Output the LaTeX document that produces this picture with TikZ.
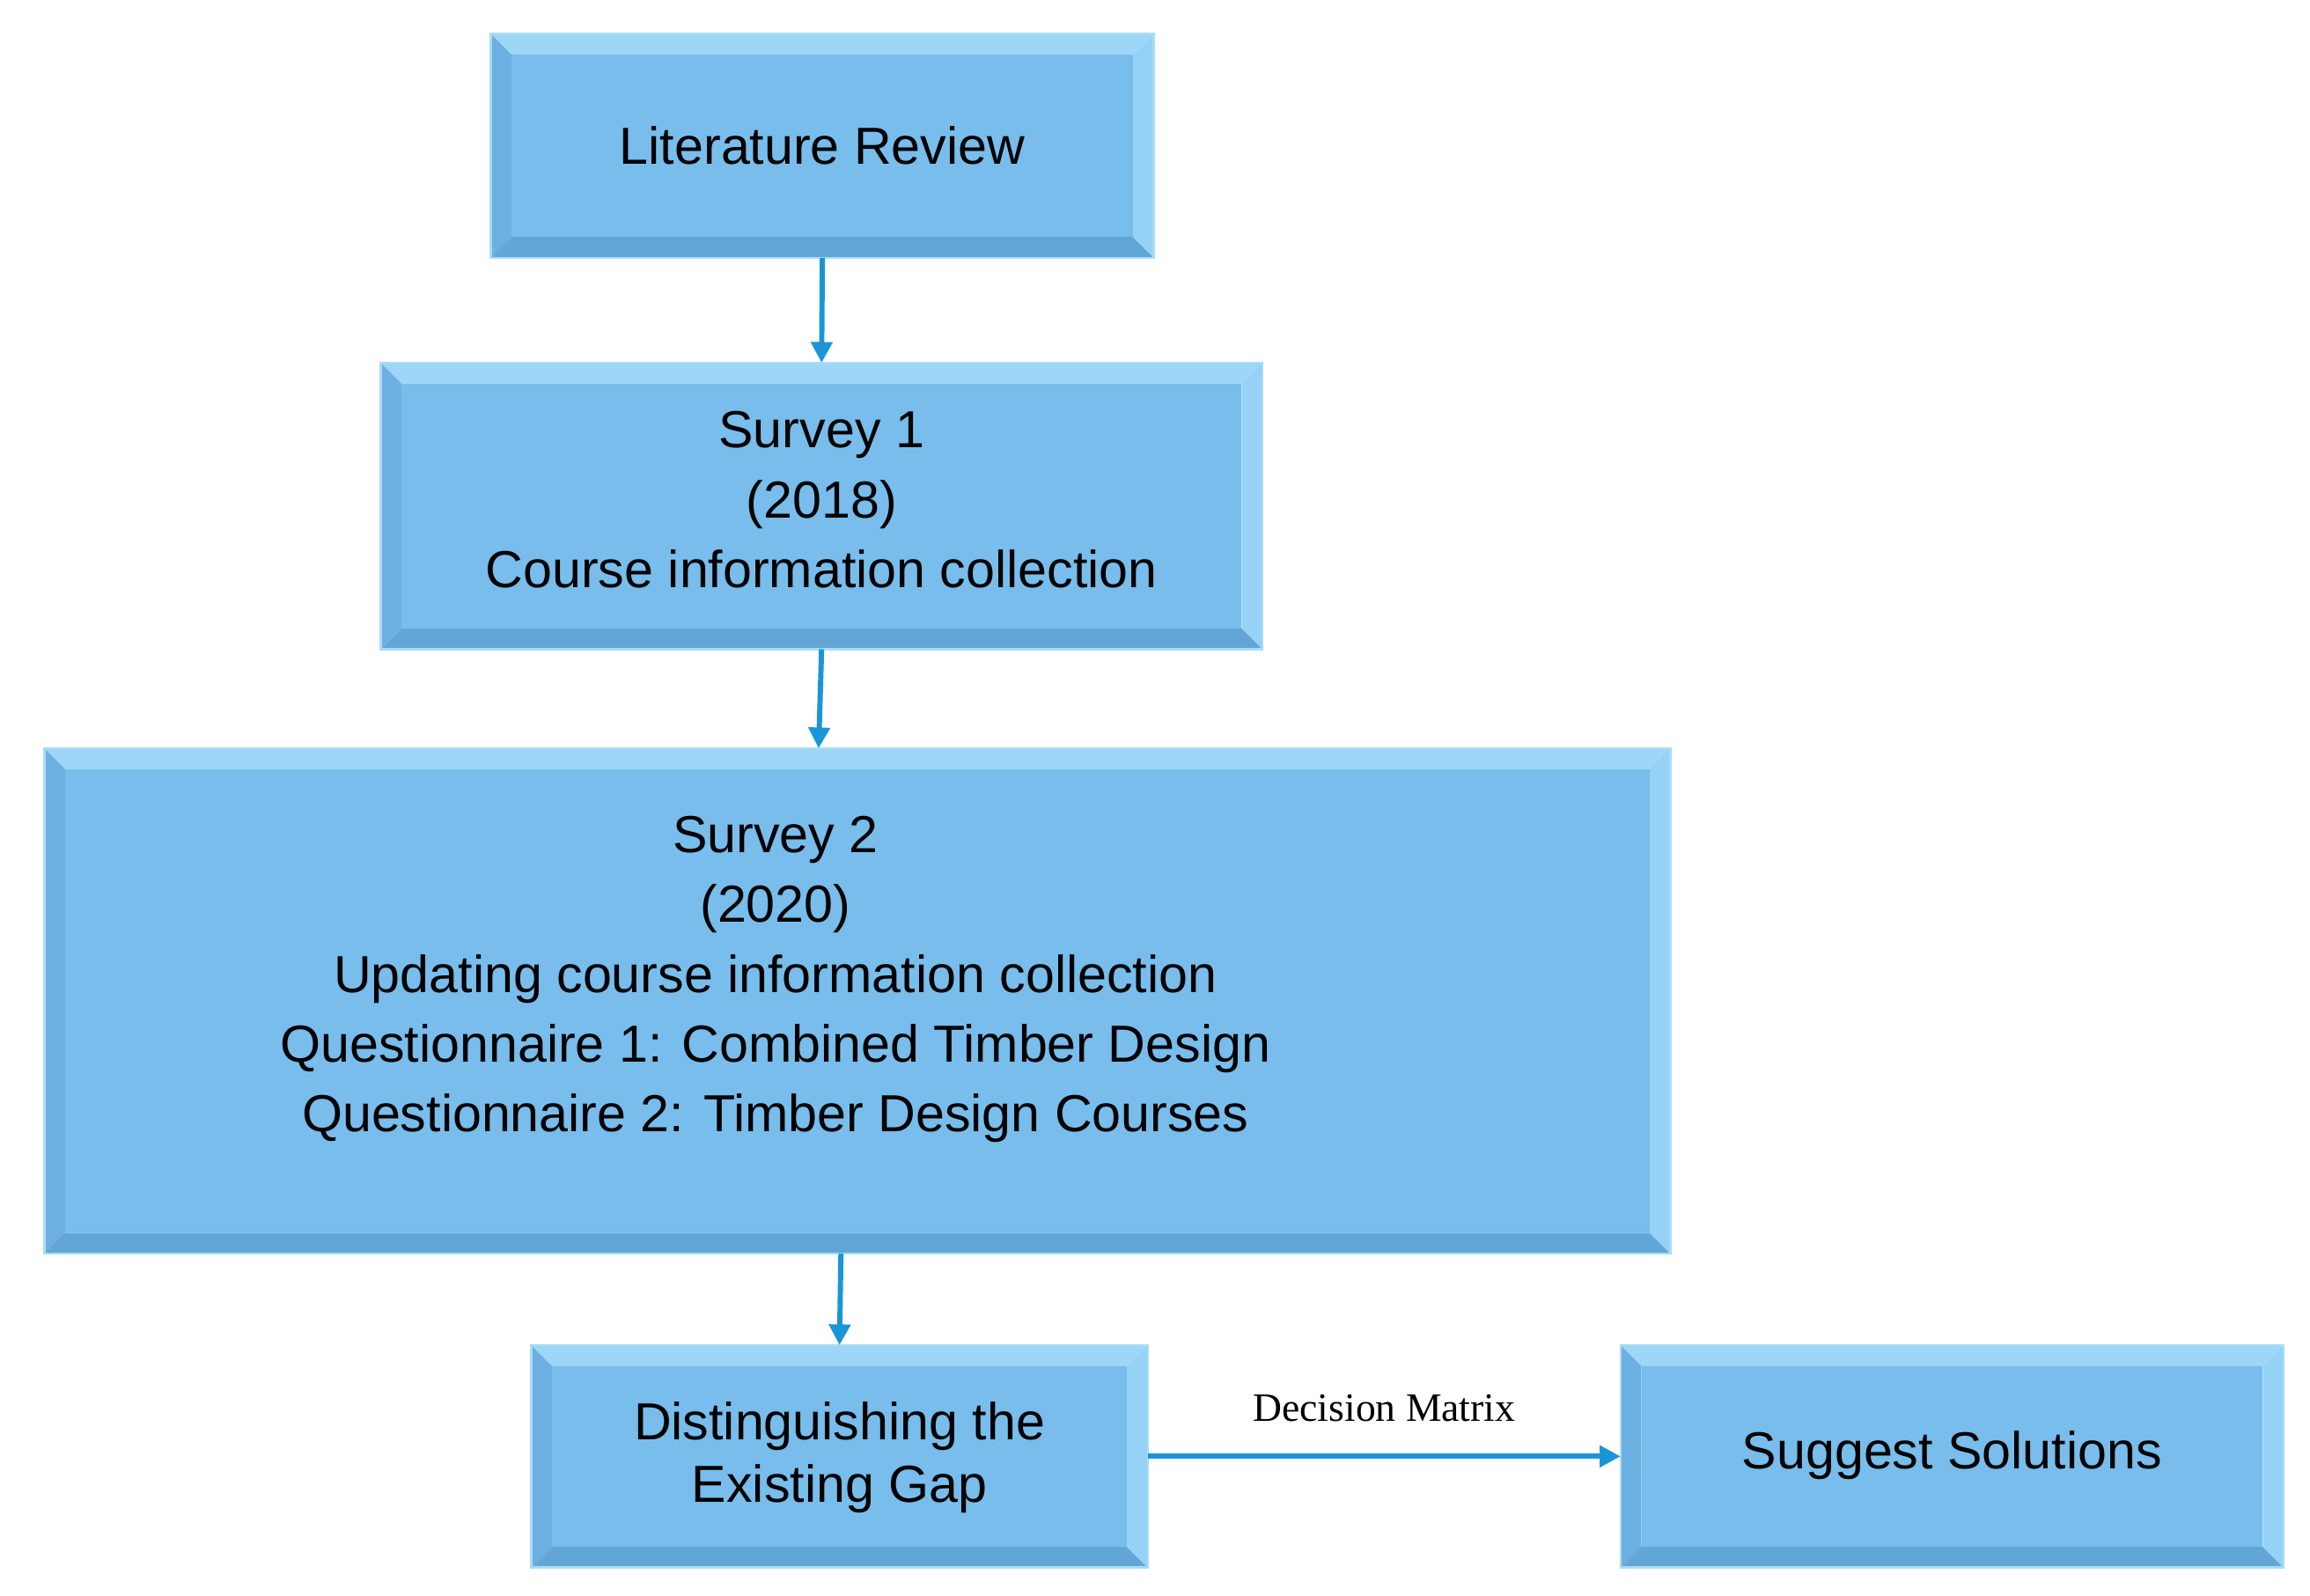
\documentclass[tikz,border=0pt]{standalone}
\usepackage{fontspec}
\setmainfont{Liberation Serif}
\newfontfamily\arialf{Liberation Sans}
\usetikzlibrary{calc,arrows.meta}
\definecolor{bfill}{HTML}{78BDEB}
\definecolor{btop}{HTML}{9ED6F8}
\definecolor{bleft}{HTML}{6CB0E2}
\definecolor{bbot}{HTML}{62A6D8}
\definecolor{bright}{HTML}{95D2F6}
\definecolor{arr}{HTML}{1A96D8}
\newcommand\bevb[1]{%
  \fill[btop] (#1.north west) -- (#1.north east) -- ($(#1.north east)+(-14,-14)$) -- ($(#1.north west)+(14,-14)$) -- cycle;
  \fill[bleft] (#1.north west) -- (#1.south west) -- ($(#1.south west)+(14,14)$) -- ($(#1.north west)+(14,-14)$) -- cycle;
  \fill[bbot] (#1.south west) -- (#1.south east) -- ($(#1.south east)+(-14,14)$) -- ($(#1.south west)+(14,14)$) -- cycle;
  \fill[bright] (#1.north east) -- (#1.south east) -- ($(#1.south east)+(-14,14)$) -- ($(#1.north east)+(-14,-14)$) -- cycle;
  \fill[bfill] ($(#1.north west)+(14,-14)$) rectangle ($(#1.south east)+(-14,14)$);
  \draw[bright!80!white, line width=1.5] (#1.north west) rectangle (#1.south east);
}
\begin{document}
\begin{tikzpicture}[x=1pt,y=1pt,
  box/.style={minimum width=#1, inner sep=0pt, align=center, font=\arialf\fontsize{35}{47}\selectfont},
  con/.style={draw=arr, line width=3.5, -{Triangle[length=14,width=14]}}]
\useasboundingbox (0,0) rectangle (1552,1072);
\node[box=445, minimum height=150] (lit) at (552.5,974) {};
\node[box=592, minimum height=192] (s1) at (552,732) {};
\node[box=1092, minimum height=339] (s2) at (576,399.5) {};
\node[box=414, minimum height=149] (dg) at (564,93.5) {};
\node[box=445, minimum height=149] (sg) at (1311.5,93.5) {};
\foreach \n in {lit,s1,s2,dg,sg} {\bevb{\n}}
\node[box=10] (litt) at (lit) {Literature Review};
\node[box=10] (s1t) at (552,736) {Survey 1\\(2018)\\Course information collection};
\node[box=10] (s2t) at (521,414) {Survey 2\\(2020)\\Updating course information collection\\Questionnaire 1: Combined Timber Design\\Questionnaire 2: Timber Design Courses};
\node[box=10, font=\arialf\fontsize{35}{42}\selectfont] (dgt) at (564,93) {Distinguishing the\\Existing Gap};
\node[box=10] (sgt) at (1311.5,94) {Suggest Solutions};
\draw[con] (lit.south) -- (s1.north);
\draw[con] (s1.south) -- ([xshift=-2]s2.north -| s1.south);
\draw[con] ([xshift=1]s2.south -| dg.north) -- (dg.north);
\draw[con] (dg.east) -- (sg.west) node[midway, above=18, font=\fontsize{27}{30}\selectfont, text=black] {Decision Matrix};
\end{tikzpicture}
\end{document}
